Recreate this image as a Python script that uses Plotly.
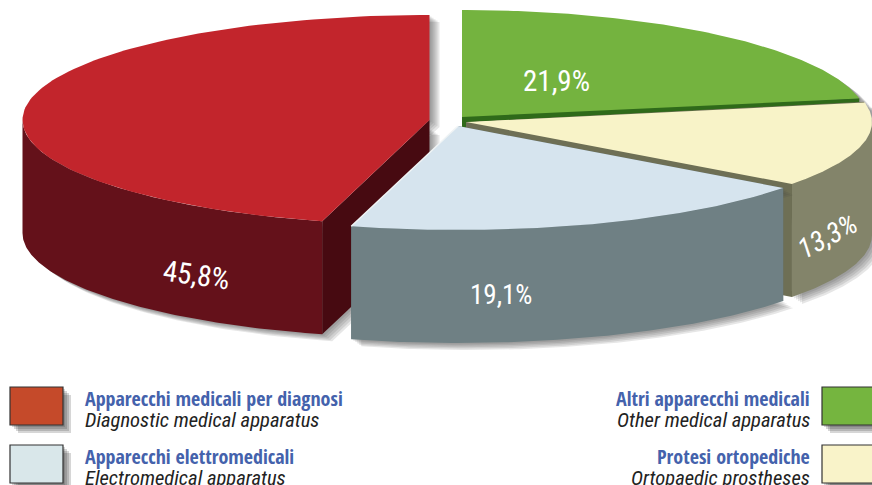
import numpy as np
import plotly.graph_objects as go

# ---- data ----
slice_names = ["Altri apparecchi medicali", "Protesi ortopediche", "Apparecchi elettromedicali", "Apparecchi medicali per diagnosi"]
slice_names_en = ["Other medical apparatus", "Ortopaedic prostheses", "Electromedical apparatus", "Diagnostic medical apparatus"]
shares = [21.9, 13.3, 19.1, 45.8]
share_labels = ["21,9%", "13,3%", "19,1%", "45,8%"]

# ---- style ----
W, H = 872, 485
FONT = "Roboto Condensed"
TITLE_FONT = "Open Sans Condensed"
top_colors = ["#74b33f", "#f8f3c8", "#d6e4ee", "#c2252c"]
side_colors = ["#3f7a22", "#83846a", "#6f8084", "#64111a"]
wall_colors = ["#2f6a1a", "#6e6f55", "#5d6d70", "#470a11"]
swatch_colors = ["#75b53f", "#f9f3c9", "#d9e7ea", "#c54a2a"]
centers = [(462, 120), (466, 122), (458, 126), (429.5, 120)]
RX = [405, 406, 405, 407]
RY = [110, 104, 104, 105]
DEPTH = 113
label_pos = [(556, 81, 0, 29, "normal"), (827, 236, -28, 28, "italic"), (501, 295, 0, 27, "normal"), (196, 275, 8, 29, "normal")]

fractions = np.array(shares) / sum(shares)
edges = np.concatenate([[0], np.cumsum(fractions)]) * 2 * np.pi

def rim(i, t):
    cx, cy = centers[i]
    return cx + RX[i] * np.sin(t), cy - RY[i] * np.cos(t)

fig = go.Figure()

def poly(x, y, color):
    fig.add_trace(go.Scatter(x=list(x), y=list(y), mode="lines", fill="toself", fillcolor=color,
                             line=dict(color="rgba(0,0,0,0)", width=0),
                             hoverinfo="skip", showlegend=False))

def draw_shadow(i):
    cx, cy = centers[i]
    t = np.linspace(edges[i], edges[i + 1], 120)
    x, y = rim(i, t)
    for off in (10, 8, 6, 4, 2):
        X = np.r_[cx, x, x[::-1], cx] + off
        Y = np.r_[cy, y, (y + DEPTH)[::-1], cy + DEPTH] + off * 0.7
        poly(X, Y, "rgba(60,60,60,0.13)")

def draw_body(i):
    cx, cy = centers[i]
    a, b = edges[i], edges[i + 1]
    for e in (a, b):
        ex, ey = rim(i, e)
        poly([cx, ex, ex, cx], [cy, ey, ey + DEPTH, cy + DEPTH], wall_colors[i])
    lo, hi = max(a, np.pi / 2), min(b, 1.5 * np.pi)
    if hi > lo:
        t = np.linspace(lo, hi, 120)
        x, y = rim(i, t)
        poly(np.r_[x, x[::-1]], np.r_[y, (y + DEPTH)[::-1]], side_colors[i])
    t = np.linspace(a, b, 120)
    x, y = rim(i, t)
    poly(np.r_[cx, x, cx], np.r_[cy, y, cy], top_colors[i])

draw_shadow(3)
draw_body(3)
draw_shadow(0)
draw_body(0)
draw_shadow(1)
draw_body(1)
gx, gy = rim(0, edges[1])
poly([centers[0][0], gx, gx, centers[0][0]],
     [centers[0][1] - 3, gy, gy + 1, centers[0][1] + 2], wall_colors[0])
draw_shadow(2)
draw_body(2)
# pale edge along the near cut of the blue slice
bx, by = rim(2, edges[3])
fig.add_trace(go.Scatter(x=[centers[2][0], bx], y=[centers[2][1], by], mode="lines",
                         line=dict(color="#f1f5f6", width=1.5), hoverinfo="skip", showlegend=False))

annotations = []
for txt, (x, y, rot, size, style) in zip(share_labels, label_pos):
    annotations.append(dict(x=x, y=y, text=txt, showarrow=False, textangle=rot,
                            xref="x", yref="y", xanchor="center", yanchor="middle",
                            font=dict(family=FONT, size=size, color="white", style=style)))

legend_rows = [(3, "left", 387), (2, "left", 445), (0, "right", 387), (1, "right", 445)]
shapes = []
for i, side, top in legend_rows:
    x0, x1 = (10, 63) if side == "left" else (822, 885)
    for off in (8, 6, 4, 2):
        shapes.append(dict(type="rect", xref="x", yref="y", x0=x0 + off, x1=x1 + off, y0=top + off, y1=top + 38 + off,
                           fillcolor="rgba(50,50,50,0.2)", line=dict(width=0), layer="above"))
    shapes.append(dict(type="rect", xref="x", yref="y", x0=x0, x1=x1, y0=top, y1=top + 38,
                       fillcolor=swatch_colors[i], line=dict(color="#333333", width=1.2), layer="above"))
    tx = 83 if side == "left" else 812
    anchor = "left" if side == "left" else "right"
    annotations.append(dict(x=tx, y=top + 11, text=slice_names[i], showarrow=False, xanchor=anchor, yanchor="middle",
                            xref="x", yref="y", font=dict(family=TITLE_FONT, size=20, color="#4462ac")))
    annotations.append(dict(x=tx, y=top + 32.5, text="<i>%s</i>" % slice_names_en[i], showarrow=False, xanchor=anchor,
                            yanchor="middle", xref="x", yref="y", font=dict(family=FONT, size=20.6, color="#222222")))

fig.update_layout(
    width=W, height=H, margin=dict(l=0, r=0, t=0, b=0),
    paper_bgcolor="white", plot_bgcolor="white", showlegend=False,
    xaxis=dict(range=[0, W], visible=False, fixedrange=True),
    yaxis=dict(range=[H, 0], visible=False, fixedrange=True),
    annotations=annotations, shapes=shapes,
)
fig.write_html("out.html", config={"displayModeBar": False}, post_script="document.body.style.margin='0';")
